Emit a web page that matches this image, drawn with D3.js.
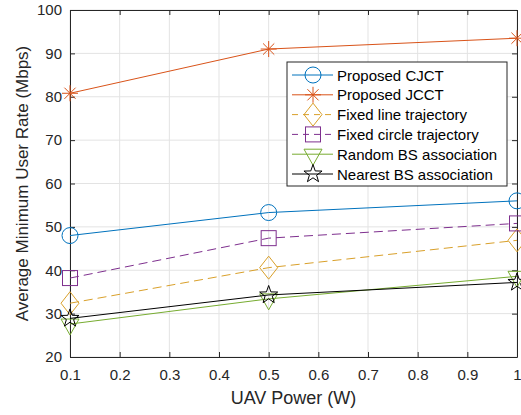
<!DOCTYPE html>
<html>
<head>
<meta charset="utf-8">
<script src="https://cdn.jsdelivr.net/npm/d3@7"></script>
<style>
  body { margin: 0; background: #fff; }
  svg { display: block; font-family: "Liberation Sans", Arial, sans-serif; }
</style>
</head>
<body>
<svg id="chart"></svg>
<script>
// data
const powers = [0.1, 0.5, 1];
const cjct = [48, 53.3, 56];
const jcct = [80.8, 91, 93.5];
const fixedLine = [32.4, 40.6, 46.9];
const fixedCircle = [38.2, 47.4, 50.8];
const randomBS = [27.6, 33.4, 38.6];
const nearestBS = [28.9, 34.3, 37.2];
const xTicks = [0.1, 0.2, 0.3, 0.4, 0.5, 0.6, 0.7, 0.8, 0.9, 1];
const yTicks = [20, 30, 40, 50, 60, 70, 80, 90, 100];

const series = [
  { name: 'Proposed CJCT', values: cjct, color: '#0072BD', dash: null, marker: 'circle' },
  { name: 'Proposed JCCT', values: jcct, color: '#D95319', dash: null, marker: 'asterisk' },
  { name: 'Fixed line trajectory', values: fixedLine, color: '#D9A02A', dash: '9,5', marker: 'diamond' },
  { name: 'Fixed circle trajectory', values: fixedCircle, color: '#7E2F8E', dash: '9,5', marker: 'square' },
  { name: 'Random BS association', values: randomBS, color: '#77AC30', dash: null, marker: 'triangle' },
  { name: 'Nearest BS association', values: nearestBS, color: '#000000', dash: null, marker: 'star' },
];

const width = 521, height = 415;
const marginLeft = 70, marginRight = 4, marginTop = 10, marginBottom = 58;

const svg = d3.select('#chart')
  .attr('width', width)
  .attr('height', height)
  .attr('viewBox', [0, 0, width, height]);

const x = d3.scaleLinear().domain([0.1, 1]).range([marginLeft, width - marginRight]);
const y = d3.scaleLinear().domain([20, 100]).range([height - marginBottom, marginTop]);

// grid
svg.append('g').selectAll('line').data(xTicks).join('line')
  .attr('x1', d => x(d)).attr('x2', d => x(d))
  .attr('y1', y(20)).attr('y2', y(100))
  .attr('stroke', '#e3e3e3').attr('stroke-width', 1);
svg.append('g').selectAll('line').data(yTicks).join('line')
  .attr('x1', x(0.1)).attr('x2', x(1))
  .attr('y1', d => y(d)).attr('y2', d => y(d))
  .attr('stroke', '#e3e3e3').attr('stroke-width', 1);

// axes (MATLAB style: ticks inside, box on)
const axColor = '#262626';
const fmt = d => String(d);
svg.append('g')
  .attr('transform', `translate(0,${y(20)})`)
  .call(d3.axisBottom(x).tickValues(xTicks).tickFormat(fmt).tickSizeInner(-5).tickSizeOuter(0).tickPadding(12))
  .call(g => g.selectAll('text').style('font-size', '15px').attr('fill', axColor))
  .call(g => g.selectAll('line, path').attr('stroke', axColor));
svg.append('g')
  .attr('transform', `translate(${x(0.1)},0)`)
  .call(d3.axisLeft(y).tickValues(yTicks).tickSizeInner(-5).tickSizeOuter(0).tickPadding(8))
  .call(g => g.selectAll('text').style('font-size', '15px').attr('fill', axColor))
  .call(g => g.selectAll('line, path').attr('stroke', axColor));
svg.append('g')
  .attr('transform', `translate(0,${y(100)})`)
  .call(d3.axisTop(x).tickValues(xTicks).tickFormat('').tickSizeInner(-5).tickSizeOuter(0))
  .call(g => g.selectAll('line, path').attr('stroke', axColor));
svg.append('g')
  .attr('transform', `translate(${x(1)},0)`)
  .call(d3.axisRight(y).tickValues(yTicks).tickFormat('').tickSizeInner(-5).tickSizeOuter(0))
  .call(g => g.selectAll('line, path').attr('stroke', axColor));

// axis labels
svg.append('text')
  .attr('x', (x(0.1) + x(1)) / 2).attr('y', 404)
  .attr('text-anchor', 'middle')
  .style('font-size', '18px').attr('fill', axColor)
  .text('UAV Power (W)');
svg.append('text')
  .attr('transform', `translate(28,${(y(20) + y(100)) / 2}) rotate(-90)`)
  .attr('text-anchor', 'middle')
  .style('font-size', '17px').attr('fill', axColor)
  .text('Average Minimum User Rate (Mbps)');

// marker shapes
function drawMarker(g, type, cx, cy, color) {
  const m = g.append('g').attr('transform', `translate(${cx},${cy})`)
    .attr('fill', 'none').attr('stroke', color).attr('stroke-width', 1);
  if (type === 'circle') {
    m.append('circle').attr('r', 8);
  } else if (type === 'square') {
    m.append('rect').attr('x', -7.5).attr('y', -7.5).attr('width', 15).attr('height', 15);
  } else if (type === 'diamond') {
    m.append('path').attr('d', 'M0,-11.5L9,0L0,11.5L-9,0Z');
  } else if (type === 'triangle') {
    m.append('path').attr('d', 'M-9,-5L9,-5L0,11Z');
  } else if (type === 'asterisk') {
    const r = 8;
    m.append('path').attr('d', `M0,${-r}L0,${r}M${-r},0L${r},0M${-r * 0.7},${-r * 0.7}L${r * 0.7},${r * 0.7}M${-r * 0.7},${r * 0.7}L${r * 0.7},${-r * 0.7}`);
  } else if (type === 'star') {
    const pts = [];
    for (let i = 0; i < 10; i++) {
      const a = -Math.PI / 2 + i * Math.PI / 5;
      const r = i % 2 === 0 ? 9.5 : 3.8;
      pts.push([r * Math.cos(a), r * Math.sin(a)]);
    }
    m.append('path').attr('d', 'M' + pts.map(p => p.join(',')).join('L') + 'Z');
  }
}

const line = d3.line().x((d, i) => x(powers[i])).y(d => y(d));

series.forEach(s => {
  svg.append('path')
    .datum(s.values)
    .attr('d', line)
    .attr('fill', 'none')
    .attr('stroke', s.color)
    .attr('stroke-width', 1)
    .attr('stroke-dasharray', s.dash);
  const mg = svg.append('g');
  s.values.forEach((v, i) => drawMarker(mg, s.marker, x(powers[i]), y(v), s.color));
});

// legend
const legX = 287, legY = 62, legW = 220, legH = 124, rowH = 19.8;
svg.append('rect')
  .attr('x', legX).attr('y', legY).attr('width', legW).attr('height', legH)
  .attr('fill', '#fff').attr('stroke', axColor).attr('stroke-width', 1);
series.forEach((s, i) => {
  const cy = legY + 13 + i * rowH;
  const g = svg.append('g');
  g.append('line')
    .attr('x1', legX + 5).attr('x2', legX + 46)
    .attr('y1', cy).attr('y2', cy)
    .attr('stroke', s.color).attr('stroke-width', 1)
    .attr('stroke-dasharray', s.dash ? '6,5' : null);
  drawMarker(g, s.marker, legX + 26, cy, s.color);
  g.append('text')
    .attr('x', legX + 50).attr('y', cy)
    .attr('dominant-baseline', 'central')
    .style('font-size', '15px').attr('fill', '#000')
    .text(s.name);
});
</script>
</body>
</html>
